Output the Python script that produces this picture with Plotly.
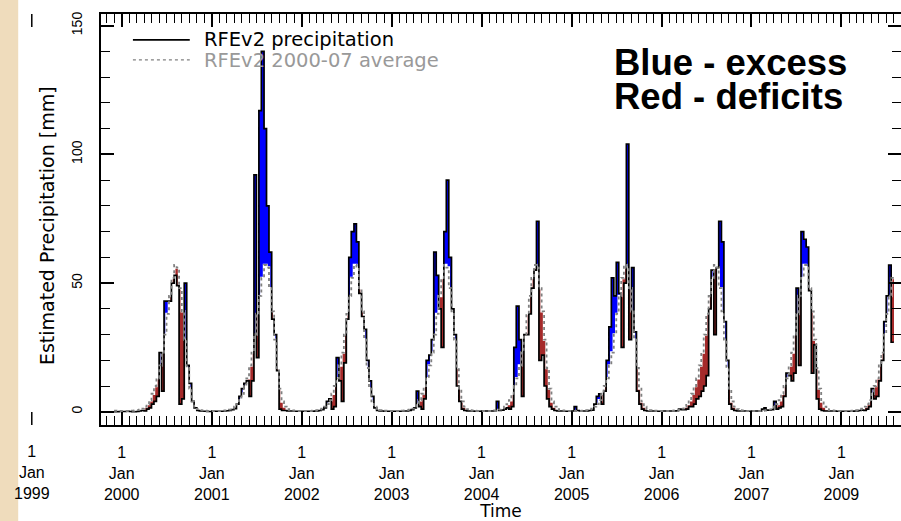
import plotly.graph_objects as go
from datetime import datetime

# ---------------- data (mm per dekad) ----------------
# RFEv2 2000-07 average, one value per dekad (Jan 1-10 ... Dec 21-31)
clim = [0.3, 0.3, 0.3, 0.3, 0.4, 0.5, 0.6, 0.8, 1.2, 2,
        3, 4.5, 7, 10, 13, 18, 23, 30, 38, 45,
        52, 57, 56, 48, 39, 28, 17, 9, 4, 2,
        1, 0.6, 0.5, 0.4, 0.3, 0.3]

# RFEv2 precipitation, per year, dekads starting at index given in first_dekad
first_dekad = {1999: 33, 2000: 0, 2001: 0, 2002: 0, 2003: 0, 2004: 0,
               2005: 0, 2006: 0, 2007: 0, 2008: 0}
rain_1999 = [0.0, 0.0, 0.1]
rain_2000 = [0.1, 0.1, 0.2, 0.1, 0, 0, 0.1, 0.3, 0.5, 0.3,
             1, 1.5, 3, 4, 6, 23, 8, 43, 43, 43,
             50, 53, 49, 3, 5, 50, 18, 11, 4, 1.5,
             0.5, 0.3, 0.2, 0.2, 0.1, 0.1]
rain_2001 = [0.3, 0.2, 0.2, 0.2, 0.2, 0.3, 0.4, 0.5, 0.8, 1.2,
             3, 6, 9, 11, 12, 6, 12, 92, 21, 117,
             140, 110, 80, 62, 36, 30, 16, 1, 0.5, 0.5,
             0.3, 0.3, 0.3, 0.2, 0.2, 0.2]
rain_2002 = [0.2, 0.2, 0.2, 0.2, 0.2, 0.3, 0.3, 0.5, 0.8, 1.5,
             4, 5, 1, 2, 21, 12, 4, 19, 36, 60,
             70, 73, 66, 46, 37, 32, 20, 12, 6, 1.5,
             0.5, 0.3, 0.3, 0.2, 0.2, 0.2]
rain_2003 = [0.2, 0.2, 0.2, 0.2, 0.2, 0.3, 0.3, 0.5, 0.8, 1.5,
             8, 2, 1, 5, 20, 22, 28, 62, 53, 40,
             25, 70, 90, 60, 40, 30, 10, 4, 1, 0.5,
             0.3, 0.3, 0.3, 0.2, 0.2, 0.2]
rain_2004 = [0.3, 0.3, 0.3, 0.3, 0.3, 0.4, 4, 0.5, 0.6, 1,
             1.5, 1, 2, 25, 41, 28, 6, 30, 30, 38,
             48, 55, 74, 20, 22, 10, 5, 2, 1, 0.5,
             0.3, 0.3, 0.3, 0.2, 0.2, 0.2]
rain_2005 = [0.3, 2, 0.5, 0.3, 0.3, 0.3, 0.3, 0.5, 0.6, 3,
             6, 7, 3, 8, 20, 33, 52, 45, 58, 46,
             25, 50, 104, 28, 56, 31, 8, 3, 1, 0.5,
             0.3, 0.3, 0.3, 0.3, 0.2, 0.2]
rain_2006 = [0.3, 0.3, 0.3, 0.3, 0.3, 0.3, 0.4, 1, 0.8, 0.8,
             1, 2, 2, 3, 5, 6, 8, 10, 14, 40,
             55, 30, 56, 74, 66, 35, 20, 3, 1, 0.5,
             0.3, 0.3, 0.3, 0.3, 0.2, 0.2]
rain_2007 = [0.3, 0.3, 0.3, 0.3, 1, 1.5, 0.6, 0.6, 0.8, 4,
             1, 1.5, 2, 6, 15, 14, 12, 15, 48, 18,
             70, 67, 64, 47, 15, 26, 5, 1, 0.5, 0.3,
             0.3, 0.3, 0.3, 0.3, 0.2, 0.2]
rain_2008 = [0.2, 0.2, 0.2, 0.2, 0.2, 0.3, 0.3, 0.5, 0.6, 0.5,
             1, 2, 9, 5, 6, 12, 20, 35, 45, 57,
             27]
rain_by_year = {1999: rain_1999, 2000: rain_2000, 2001: rain_2001, 2002: rain_2002,
                2003: rain_2003, 2004: rain_2004, 2005: rain_2005, 2006: rain_2006,
                2007: rain_2007, 2008: rain_2008}

tick_years = [2000, 2001, 2002, 2003, 2004, 2005, 2006, 2007, 2008]
tick_year_labels = ["2000", "2001", "2002", "2003", "2004", "2005", "2006", "2007", "2009"]
outside_tick_year = 1999

x_range = [datetime(1999, 10, 9), datetime(2008, 8, 30)]
y_range = [-5.14, 154.5]


# ---------------- build series ----------------
def dekad_start(year, i):
    return datetime(year, i // 3 + 1, [1, 11, 21][i % 3])


def next_start(year, i):
    i += 1
    if i == 36:
        return datetime(year + 1, 1, 1)
    return dekad_start(year, i)


starts, ends, actual, average = [], [], [], []
for yr in sorted(rain_by_year):
    for k, v in enumerate(rain_by_year[yr]):
        i = first_dekad[yr] + k
        starts.append(dekad_start(yr, i))
        ends.append(next_start(yr, i))
        actual.append(v)
        average.append(clim[i])

step_x = starts + [ends[-1]]
step_actual = actual + [actual[-1]]
step_avg = average + [average[-1]]

centers = [s + (e - s) / 2 for s, e in zip(starts, ends)]
widths = [(e - s).total_seconds() * 1000 for s, e in zip(starts, ends)]
diff = [a - c for a, c in zip(actual, average)]
colors = ["#0000ff" if d > 0 else "#a52a2a" for d in diff]

# ---------------- geometry ----------------
# figure is 2px wider than the window so the right frame line falls just outside, as in the original
W, H = 903, 521
L, R, T, B = 101, 0, 14, 94
PW, PH = W - L - R, H - T - B


def px_x(px):
    return (px - L) / PW


def px_y(py):
    return (H - B - py) / PH


fig = go.Figure()

fig.add_trace(go.Bar(x=centers, y=diff, base=average, width=widths,
                     marker=dict(color=colors, line=dict(width=0)),
                     showlegend=False, hoverinfo="skip"))
fig.add_trace(go.Scatter(x=step_x, y=step_avg, mode="lines", line_shape="hv",
                         line=dict(color="white", width=2.5),
                         showlegend=False, hoverinfo="skip"))
fig.add_trace(go.Scatter(x=step_x, y=step_actual, mode="lines", line_shape="hv",
                         line=dict(color="black", width=1.7),
                         name="RFEv2 precipitation", showlegend=False))
fig.add_trace(go.Scatter(x=step_x, y=step_avg, mode="lines", line_shape="hv",
                         line=dict(color="#808080", width=1.8, dash="dot"),
                         name="RFEv2 2000-07 average", showlegend=False))

tick_font = dict(family="Liberation Sans, Arial", size=16, color="black")

fig.update_layout(
    width=W, height=H,
    margin=dict(l=L, r=R, t=T, b=B, pad=0),
    paper_bgcolor="#efdcbc",
    plot_bgcolor="white",
    bargap=0,
    xaxis=dict(
        type="date", range=x_range,
        showline=True, linecolor="black", linewidth=1.5, mirror="ticks",
        ticks="inside", ticklen=13, tickwidth=1.5, tickcolor="black",
        tickmode="array",
        tickvals=[datetime(y, 1, 1) for y in tick_years],
        ticktext=["1<br>Jan<br>" + s for s in tick_year_labels],
        tickfont=tick_font, ticklabelstandoff=12,
        minor=dict(ticks="inside", ticklen=9, tickwidth=1.2, tickcolor="black",
                   dtick="M1", tick0="2000-01-01", showgrid=False),
        showgrid=False, zeroline=False,
        title=dict(text="Time", font=dict(family="DejaVu Sans", size=17, color="black"),
                   standoff=7),
    ),
    yaxis=dict(
        range=y_range,
        showline=True, linecolor="black", linewidth=1.5, mirror="ticks",
        ticks="inside", ticklen=13, tickwidth=1.5, tickcolor="black",
        tickmode="array", tickvals=[0, 50, 100, 150],
        tickangle=-90, tickfont=dict(family="Liberation Sans, Arial", size=14, color="black"),
        ticklabelstandoff=12,
        minor=dict(ticks="inside", ticklen=9, tickwidth=1.2, tickcolor="black",
                   dtick=10, tick0=0, showgrid=False),
        showgrid=False, zeroline=False,
    ),
)

# white chart-image background (beige slide strip on the left)
shapes = [dict(type="rect", xref="paper", yref="paper", layer="below",
               x0=px_x(18), x1=px_x(W + 5), y0=px_y(H + 5), y1=px_y(-5),
               fillcolor="white", line=dict(width=0))]

# Jan 1999 tick drawn outside the plot window
span = (x_range[1] - x_range[0]).total_seconds()
fx99 = (datetime(outside_tick_year, 1, 1) - x_range[0]).total_seconds() / span
shapes += [
    dict(type="line", xref="paper", yref="paper", x0=fx99, x1=fx99,
         y0=0, y1=13 / PH, line=dict(color="black", width=1.5)),
    dict(type="line", xref="paper", yref="paper", x0=fx99, x1=fx99,
         y0=1, y1=1 - 13 / PH, line=dict(color="black", width=1.5)),
]

# legend samples
shapes += [
    dict(type="line", xref="paper", yref="paper", x0=px_x(133), x1=px_x(190),
         y0=px_y(40), y1=px_y(40), line=dict(color="black", width=1.6)),
    dict(type="line", xref="paper", yref="paper", x0=px_x(133), x1=px_x(190),
         y0=px_y(60), y1=px_y(60), line=dict(color="#808080", width=1.2, dash="dot")),
]
fig.update_layout(shapes=shapes)

leg_font = dict(family="DejaVu Sans", size=19.5)
big_font = dict(family="Liberation Sans, Arial", size=36.5, color="black")
annotations = [
    dict(xref="paper", yref="paper", x=px_x(202), y=px_y(40), xanchor="left", yanchor="middle",
         text="RFEv2 precipitation", showarrow=False, font=dict(leg_font, color="black")),
    dict(xref="paper", yref="paper", x=px_x(202), y=px_y(61), xanchor="left", yanchor="middle",
         text="RFEv2 2000-07 average", showarrow=False, font=dict(leg_font, color="#999999")),
    dict(xref="paper", yref="paper", x=px_x(613), y=px_y(62), xanchor="left", yanchor="middle",
         text="<b>Blue - excess</b>", showarrow=False, height=32, font=big_font),
    dict(xref="paper", yref="paper", x=px_x(613), y=px_y(96), xanchor="left", yanchor="middle",
         text="<b>Red - deficits</b>", showarrow=False, height=32, font=big_font),
    dict(xref="paper", yref="paper", x=px_x(47), y=px_y(227), xanchor="center", yanchor="middle",
         text="Estimated Precipitation [mm]", textangle=-90, showarrow=False,
         font=dict(family="DejaVu Sans", size=19, color="black")),
    dict(xref="paper", yref="paper", x=fx99, y=px_y(443), xanchor="center", yanchor="top",
         text="1<br>Jan<br>1999", showarrow=False, font=tick_font),
]
fig.update_layout(annotations=annotations)

fig.write_html("out.html",
               config={"displayModeBar": False},
               post_script="document.body.style.margin='0';document.body.style.overflow='hidden';")
